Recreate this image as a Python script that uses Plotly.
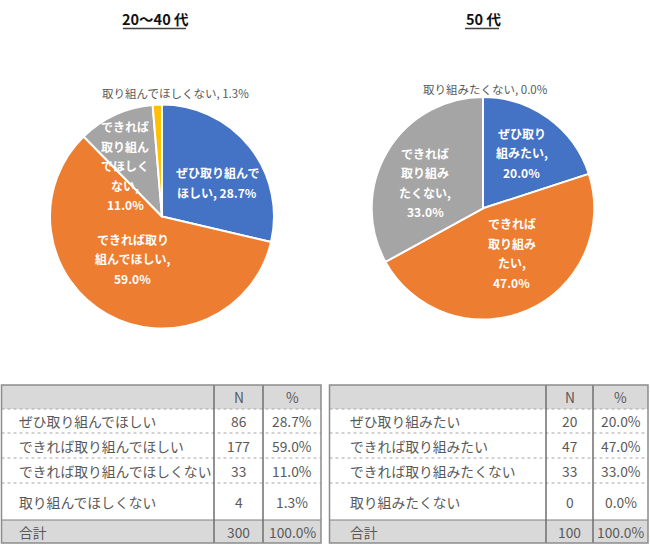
import math
import plotly.graph_objects as go

# ---------------- data ----------------
left_title = "20～40 代"
right_title = "50 代"
left_labels = ["ぜひ取り組んでほしい", "できれば取り組んでほしい", "できれば取り組んでほしくない", "取り組んでほしくない"]
left_n = [86, 177, 33, 4]
left_pct = [28.7, 59.0, 11.0, 1.3]
left_total_n = 300
left_total_pct = 100.0
right_labels = ["ぜひ取り組みたい", "できれば取り組みたい", "できれば取り組みたくない", "取り組みたくない"]
right_n = [20, 47, 33, 0]
right_pct = [20.0, 47.0, 33.0, 0.0]
right_total_n = 100
right_total_pct = 100.0
total_label = "合計"
header_labels = ["", "N", "%"]

# ---------------- style ----------------
W, H = 650, 548
colors = ["#4472C4", "#ED7D31", "#A5A5A5", "#FFC000"]
FONT = "Noto Sans CJK JP"

# pie geometry (px): centre x, centre y, radius
left_geom = (162, 216.5, 112)
right_geom = (483, 208.3, 111.3)
# label wrap points, radial fraction, angle nudge, inside?
left_wrap = [[7], [6, 13], [4, 8, 12, 15], []]
left_frac = [0.58, 0.46, 0.56, 1.11]
left_delta = [7, 5.5, -11.5, 8.7]
left_inside = [True, True, True, False]
right_wrap = [[4, 9], [4, 8, 11], [4, 8, 13], []]
right_frac = [0.61, 0.48, 0.57, 1.07]
right_delta = [-1, -9.4, -6.6, 1]
right_inside = [True, True, True, False]
LINE_H = 19.5

# table geometry (px)
left_tab_x = [1.5, 214, 263, 321]
right_tab_x = [329.5, 546, 593, 648]
tab_y = [385, 409, 433, 458, 483, 520, 543]


def px_x(x):
    return x / W


def px_y(y):
    return 1 - y / H


fig = go.Figure()
annotations = []
shapes = []


def add_pie(labels, values, pct, geom, wrap, frac, delta, inside, title):
    cx, cy, r = geom
    fig.add_trace(go.Pie(
        labels=labels, values=values, sort=False, direction="clockwise", rotation=0,
        marker=dict(colors=colors, line=dict(color="white", width=2)),
        textposition="none", showlegend=False, hoverinfo="label+percent",
        domain=dict(x=[px_x(cx - r), px_x(cx + r)], y=[px_y(cy + r), px_y(cy - r)]),
    ))
    total = sum(values)
    cum = 0
    for i, (lab, v, p) in enumerate(zip(labels, values, pct)):
        mid = (cum + v / 2) / total * 360
        cum += v
        text = f"{lab}, {p:.1f}%"
        pts = [0] + wrap[i] + [len(text)]
        lines = [text[a:b].strip() for a, b in zip(pts[:-1], pts[1:])]
        th = math.radians(mid + delta[i])
        lx = cx + r * frac[i] * math.sin(th)
        ly = cy - r * frac[i] * math.cos(th)
        n = len(lines)
        for k, line in enumerate(lines):
            yy = ly + (k - (n - 1) / 2) * LINE_H
            annotations.append(dict(
                x=lx, y=yy, xref="x", yref="y", text=f"<b>{line}</b>" if inside[i] else line,
                showarrow=False, xanchor="center", yanchor="middle",
                font=dict(family=FONT, size=12 if inside[i] else 11.5,
                          color="white" if inside[i] else "#595959"),
            ))
    # title with underline
    annotations.append(dict(
        x=cx - 7 if title == left_title else cx, y=18, xref="x", yref="y",
        text=f"<b>{title}</b>", showarrow=False, xanchor="center", yanchor="middle",
        font=dict(family=FONT, size=14.5, color="#111111"),
    ))


add_pie(left_labels, left_n, left_pct, left_geom, left_wrap, left_frac, left_delta, left_inside, left_title)
add_pie(right_labels, right_n, right_pct, right_geom, right_wrap, right_frac, right_delta, right_inside, right_title)

# title underlines
shapes.append(dict(type="line", xref="x", yref="y", x0=123, x1=186, y0=28.5, y1=28.5,
                   line=dict(color="#404040", width=1.5)))
shapes.append(dict(type="line", xref="x", yref="y", x0=465, x1=499, y0=28.5, y1=28.5,
                   line=dict(color="#404040", width=1.5)))


def add_table(xs, labels, ns, pcts, tot_n, tot_pct, text_x):
    x0, x1, x2, x3 = xs
    y = tab_y
    # fills
    shapes.append(dict(type="rect", xref="x", yref="y", x0=x0, x1=x3, y0=y[0], y1=y[1],
                       fillcolor="#D9D9D9", line=dict(width=0), layer="below"))
    shapes.append(dict(type="rect", xref="x", yref="y", x0=x0, x1=x3, y0=y[5], y1=y[6],
                       fillcolor="#D9D9D9", line=dict(width=0), layer="below"))
    # dotted row lines
    for yy in y[1:5]:
        shapes.append(dict(type="line", xref="x", yref="y", x0=x0, x1=x3, y0=yy, y1=yy,
                           line=dict(color="#A6A6A6", width=1, dash="dot")))
    shapes.append(dict(type="line", xref="x", yref="y", x0=x0, x1=x3, y0=y[5], y1=y[5],
                       line=dict(color="#808080", width=1.2)))
    # vertical col lines
    for xx in (x1, x2):
        shapes.append(dict(type="line", xref="x", yref="y", x0=xx, x1=xx, y0=y[0], y1=y[6],
                           line=dict(color="#6E6E6E", width=1.5)))
    # outer border
    shapes.append(dict(type="rect", xref="x", yref="y", x0=x0, x1=x3, y0=y[0], y1=y[6],
                       line=dict(color="#8C8C8C", width=1.5)))
    font = dict(family=FONT, size=13.8, color="#595959")
    rows = [header_labels] + [[l, str(n), f"{p:.1f}%"] for l, n, p in zip(labels, ns, pcts)] \
        + [[total_label, str(tot_n), f"{tot_pct:.1f}%"]]
    for ri, row in enumerate(rows):
        yc = (y[ri] + y[ri + 1]) / 2
        if row[0]:
            annotations.append(dict(x=text_x, y=yc, xref="x", yref="y", text=row[0], showarrow=False,
                                    xanchor="left", yanchor="middle", font=font))
        annotations.append(dict(x=(x1 + x2) / 2, y=yc, xref="x", yref="y", text=row[1], showarrow=False,
                                xanchor="center", yanchor="middle", font=font))
        annotations.append(dict(x=(x2 + x3) / 2, y=yc, xref="x", yref="y", text=row[2], showarrow=False,
                                xanchor="center", yanchor="middle", font=font))


add_table(left_tab_x, left_labels, left_n, left_pct, left_total_n, left_total_pct, 17)
add_table(right_tab_x, right_labels, right_n, right_pct, right_total_n, right_total_pct, 348)

fig.update_layout(
    width=W, height=H, autosize=False,
    margin=dict(l=0, r=0, t=0, b=0),
    paper_bgcolor="white", plot_bgcolor="rgba(0,0,0,0)",
    xaxis=dict(range=[0, W], visible=False, fixedrange=True),
    yaxis=dict(range=[H, 0], visible=False, fixedrange=True),
    annotations=annotations, shapes=shapes,
    font=dict(family=FONT),
)
fig.write_html(
    "out.html",
    config={"displayModeBar": False},
    post_script="document.body.style.margin='0px';document.body.style.overflow='hidden';",
)
